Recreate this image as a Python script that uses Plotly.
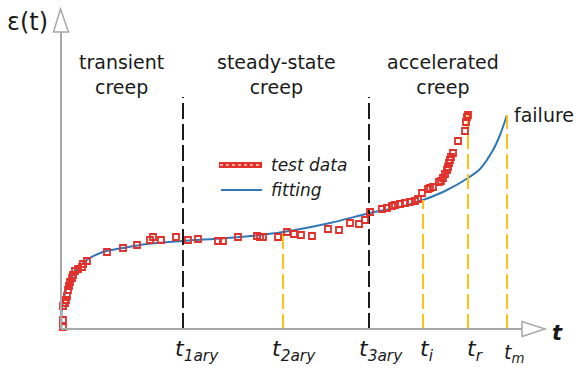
import plotly.graph_objects as go

# ---- data (time t and strain eps in chart units, axis origin at 0,0) ----
test_t = [2, 2, 2, 4, 5, 6, 7, 8, 9, 11, 12, 14, 17, 21, 22, 26, 46, 62, 76, 89,
          92, 100, 115, 127, 137, 157, 162, 177, 196, 199, 202, 217, 226, 233, 240,
          251, 267, 278, 289, 298, 304, 309, 321, 326, 331, 334, 339, 344, 349, 354,
          357, 361, 367, 369, 372, 378, 380, 382, 384, 386, 387, 388, 389, 390, 392,
          397, 404, 405, 406, 407]
test_eps = [2, 9, 23, 26, 29, 33, 39, 43, 47, 51, 54, 58, 60, 62, 65, 68, 77, 81, 84, 89,
            92, 89, 92, 89, 90, 88, 88, 92, 93, 92, 92, 92, 97, 95, 94,
            93, 100, 99, 106, 105, 109, 117, 120, 121, 123, 124, 125, 126, 127, 128,
            130, 136, 140, 141, 142, 147, 148, 151, 155, 159, 162, 166, 169, 172, 176,
            188, 198, 207, 212, 214]

fit_t = [0.3, 0.7, 4, 9, 15.7, 25.7, 42, 62, 86, 122, 179, 222, 269, 309, 339, 362,
         384, 407, 419, 432, 439, 446]
fit_eps = [0, 19, 36, 49, 59, 69, 77, 81, 85, 88, 92, 97, 106, 116, 122, 129,
           138, 151, 160, 179, 194, 214]

# characteristic times
phase_t = [122, 308]            # t_1ary, t_3ary (phase boundaries)
phase_top = [232, 232]
point_t = [222, 362, 407, 446]  # t_2ary, t_i, t_r, t_m
point_top = [97, 129, 214, 214]
tick_labels = ["t<sub>1ary</sub>", "t<sub>2ary</sub>", "t<sub>3ary</sub>",
               "t<sub>i</sub>", "t<sub>r</sub>", "t<sub>m</sub>"]
tick_x = [112, 209, 296, 357, 404, 441]

phase_names = ["transient<br>creep", "steady-state<br>creep", "accelerated<br>creep"]
phase_name_x = [60, 215, 382]

FONT = "DejaVu Sans"
INK = "#1a1a1a"
AXIS = "#a8a8a8"
RED = "#e2302b"
BLUE = "#2f78b7"
GOLD = "#ffc20e"

fig = go.Figure()

# fitted curve
fig.add_trace(go.Scatter(x=fit_t, y=fit_eps, mode="lines",
                         line=dict(color=BLUE, width=2, shape="spline", smoothing=0.8),
                         hoverinfo="skip", showlegend=False))

# phase boundaries
for t, top in zip(phase_t, phase_top):
    fig.add_trace(go.Scatter(x=[t, t], y=[0, top], mode="lines",
                             line=dict(color=INK, width=2, dash="16px,5px"),
                             hoverinfo="skip", showlegend=False))
# characteristic times
for t, top in zip(point_t, point_top):
    fig.add_trace(go.Scatter(x=[t, t], y=[0, top], mode="lines",
                             line=dict(color=GOLD, width=2, dash="15px,5px"),
                             hoverinfo="skip", showlegend=False))

# test data
fig.add_trace(go.Scatter(x=test_t, y=test_eps, mode="markers",
                         marker=dict(symbol="square-open", size=6, color=RED,
                                     line=dict(width=1.8, color=RED)),
                         showlegend=False))

shapes = []
# axes with hollow arrow heads
shapes.append(dict(type="line", x0=0, y0=0, x1=461, y1=0, xref="x", yref="y",
                   line=dict(color=AXIS, width=2)))
shapes.append(dict(type="path", path="M 461 -7.5 L 484 0 L 461 7.5 Z", xref="x", yref="y",
                   line=dict(color=AXIS, width=1.5)))
shapes.append(dict(type="line", x0=0, y0=0, x1=0, y1=297, xref="x", yref="y",
                   line=dict(color=AXIS, width=2)))
shapes.append(dict(type="path", path="M -7.5 297 L -0.5 320 L 7.5 297 Z", xref="x", yref="y",
                   line=dict(color=AXIS, width=1.5)))

# legend swatches
shapes.append(dict(type="line", x0=158, y0=164, x1=201, y1=164, xref="x", yref="y",
                   line=dict(color=RED, width=6)))
shapes.append(dict(type="line", x0=159, y0=164, x1=200, y1=164, xref="x", yref="y",
                   line=dict(color="#ffd0cc", width=1.5, dash="dot")))
shapes.append(dict(type="line", x0=160, y0=139, x1=201, y1=139, xref="x", yref="y",
                   line=dict(color=BLUE, width=2)))

ann = []
for txt, x in zip(tick_labels, tick_x):
    size = 19 if "m</sub>" in txt else 22
    ann.append(dict(x=x, y=-5 if size == 22 else -10, xref="x", yref="y", text="<i>" + txt + "</i>",
                    showarrow=False, xanchor="left", yanchor="top",
                    font=dict(family=FONT, size=size, color=INK)))
for txt, x in zip(phase_names, phase_name_x):
    ann.append(dict(x=x, y=280, xref="x", yref="y", text=txt, showarrow=False,
                    xanchor="center", yanchor="top", align="center",
                    font=dict(family=FONT, size=19, color=INK)))
ann.append(dict(x=451, y=214, xref="x", yref="y", text="failure", showarrow=False,
                xanchor="left", yanchor="middle", font=dict(family=FONT, size=19, color=INK)))
ann.append(dict(x=-34, y=307, xref="x", yref="y", text="ε(t)", showarrow=False,
                xanchor="center", yanchor="middle", font=dict(family=FONT, size=24, color=INK)))
ann.append(dict(x=496, y=-4, xref="x", yref="y", text="<b><i>t</i></b>", showarrow=False,
                xanchor="center", yanchor="middle", font=dict(family=FONT, size=21, color=INK)))
ann.append(dict(x=208, y=164, xref="x", yref="y", text="<i>test data</i>", showarrow=False,
                xanchor="left", yanchor="middle", font=dict(family=FONT, size=17, color=INK)))
ann.append(dict(x=208, y=139, xref="x", yref="y", text="<i>fitting</i>", showarrow=False,
                xanchor="left", yanchor="middle", font=dict(family=FONT, size=17, color=INK)))

fig.update_layout(
    width=584, height=369, margin=dict(l=0, r=0, t=0, b=0),
    paper_bgcolor="white", plot_bgcolor="white",
    xaxis=dict(range=[-61, 523], visible=False, fixedrange=True),
    yaxis=dict(range=[-40, 329], visible=False, fixedrange=True),
    shapes=shapes, annotations=ann, showlegend=False,
)

fig.write_html("out.html")
